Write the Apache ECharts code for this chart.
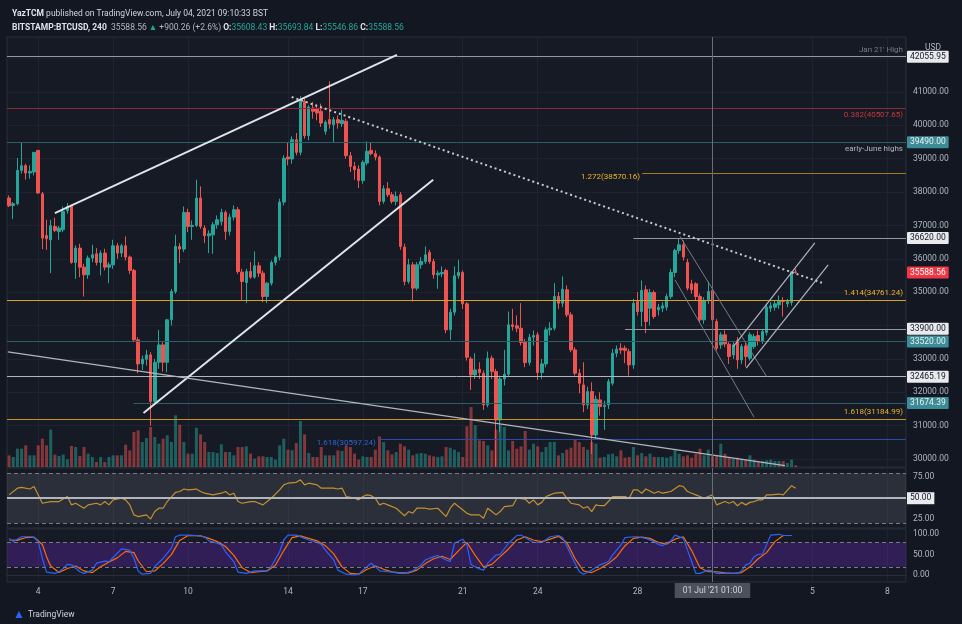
<!DOCTYPE html>
<html><head><meta charset="utf-8">
<script src="https://cdn.jsdelivr.net/npm/echarts@6/dist/echarts.min.js"></script>
<style>html,body{margin:0;padding:0;background:#131722;}#c{width:962px;height:624px;}</style>
</head><body><div id="c"></div>
<script>
// ---- DATA (4h candles, BITSTAMP:BTCUSD, index 0 = 2 Jun 2021 ~21:00) ----
const open = [37820,37600,37650,38650,38790,38570,38600,39250,37950,36700,36570,36970,36820,36870,37440,37570,35890,36320,35750,35520,36020,36150,35890,36170,35750,35820,36390,36170,36390,36050,35650,33570,32850,32990,33120,31720,32900,33420,32900,34170,35020,36370,36290,37390,36970,37000,37820,36920,36690,36720,37020,37120,37390,36820,37250,37470,35600,35290,35620,35450,35790,35570,34870,35270,35890,36050,37700,39050,38990,39570,39190,40720,39690,40520,40490,40420,39820,40170,40020,40170,40050,40120,39090,38770,38690,38350,38870,39250,39150,39050,37720,38100,37920,37720,37920,36350,35320,35820,35120,35820,35920,36190,35920,35520,35550,35650,33870,34400,35490,35590,34650,33000,32520,32690,32570,31620,33020,32620,31170,32400,32540,34020,33990,33920,33490,32890,33650,33720,32590,32850,33870,33920,34870,34670,35070,34320,33270,32570,32220,31620,32020,30720,31770,31570,31620,32270,33170,33320,33320,33220,32820,34720,34420,35070,34520,34990,34470,34520,34550,34870,35590,36250,36420,35890,35250,35250,34870,34170,34770,35050,34120,33420,33720,33440,33120,33550,32970,33390,33020,33370,33700,33520,33790,34520,34550,34620,34750,34650,34690,35608.43];
const high = [37900,37700,39020,39490,38850,38800,39200,39260,38000,37170,37170,37230,36980,37570,37670,37620,36400,36450,35850,36100,36420,36320,36250,36300,35900,36570,36470,36450,36670,36100,35700,33650,33100,33270,33200,33000,33870,33500,34200,35100,36720,36470,37570,37500,37150,38370,38170,37000,36850,37100,37300,37500,37450,37350,37600,37550,35700,35700,35900,36220,35900,35650,35300,35950,36100,37800,39100,39500,39670,39770,40870,40800,40600,40700,40620,40650,40150,41320,40250,40300,40470,40200,39200,38900,38800,38950,39520,39500,39250,39100,38200,38300,38000,38020,38000,36450,36000,35900,35900,36050,36370,36270,36000,35650,35770,35700,34500,35770,35970,35650,34700,33070,33170,32900,32650,33220,33100,32700,32500,33270,34420,34500,34300,34670,33600,33750,33850,33800,33000,33950,34100,35270,35000,35470,35200,34400,33350,32700,32900,32170,32300,31900,32000,31750,32400,33300,33400,33470,33400,33300,34800,35000,35350,35200,35100,35050,34650,34700,34950,35700,36300,36620,36550,36000,35370,35300,34950,34850,35320,35100,34200,33800,33850,33500,33500,33650,33450,33500,33800,33750,33850,33900,34650,34700,34750,34900,34850,34800,35620,35693.84];
const low = [37550,37190,37600,38550,38370,38400,38500,37950,36290,36270,35570,36800,36570,36800,37350,35850,35400,35450,34870,35400,35900,35800,35500,35650,35270,35700,36000,36050,35950,35550,33500,32570,32670,32800,31000,31650,32700,32620,32600,34000,34950,35870,36200,36800,36570,36950,36900,36470,36170,36150,36900,37000,36570,36700,37150,35550,34770,34670,35400,35400,35450,34700,34670,35200,35800,35950,37600,38800,38850,39100,39100,39600,39550,40200,40150,39950,39720,39900,39500,39900,39950,39000,38600,38370,38120,38250,38800,39100,38950,37600,37650,37850,37650,37600,36270,35200,35250,34720,35050,35700,35850,35850,35400,35100,35450,33770,33570,34300,35400,34500,32950,32070,32400,32400,31470,31550,32400,29770,30800,32200,32450,33850,33800,33400,32750,32800,33400,32370,32400,32750,33700,33850,34500,34550,34250,33200,32500,31970,31400,31500,30150,30600,31300,30870,31500,32200,33050,33150,32870,32500,32700,34300,33970,33770,34000,34200,34300,34400,34450,34800,35450,36150,35950,35050,34950,34750,34100,34050,34650,34100,33250,33300,33350,32850,33000,32700,32850,32770,32950,33300,33400,33450,33700,34400,34450,34500,34270,34550,34600,35546.86];
const close = [37590,37650,38650,38790,38570,38620,39190,37970,36620,36600,36990,36850,36920,37420,37570,35890,36320,35750,35520,36020,36120,35890,36170,35750,35820,36390,36170,36390,36050,35650,33570,32850,32990,33120,31720,32900,33420,32900,34170,35020,36370,36290,37390,36970,37000,37820,36970,36690,36750,37020,37170,37390,36820,37250,37470,35620,35320,35620,35450,35790,35570,34870,35270,35890,36050,37700,39010,38990,39570,39190,40710,39690,40550,40420,40370,40070,40090,40040,40170,40070,40150,39090,38770,38670,38350,38890,39220,39150,39050,37720,38100,37920,37720,37870,36370,35320,35820,35120,35820,35920,36120,35920,35520,35570,35590,33870,34400,35490,35590,34650,33050,32520,32670,32590,31620,33020,32620,31170,32400,32540,34020,33970,33920,33490,32890,33650,33700,32590,32850,33870,33920,34870,34670,35090,34320,33270,32570,32270,31620,32020,30720,31790,31570,31610,32320,33170,33290,33270,33250,32820,34670,34420,35050,34120,34990,34270,34550,34590,34870,35590,36250,36420,36050,35120,35070,34870,34170,34750,35020,34170,33320,33720,33450,33070,33420,32970,33370,33070,33720,33670,33520,33820,34550,34590,34650,34720,34720,34720,35608,35588.56];
const volume = [35,30,55,55,65,35,35,65,85,65,112,37,33,37,23,63,60,33,60,40,30,15,30,15,30,35,35,35,67,50,105,110,75,87,120,90,70,85,95,75,155,127,75,40,40,118,98,75,45,45,42,68,45,45,35,60,60,62,40,25,32,32,30,30,22,65,85,52,50,72,138,98,42,30,30,60,35,35,35,50,48,65,60,40,22,32,30,30,52,92,75,50,38,45,70,62,52,35,40,42,40,35,32,30,32,60,58,52,45,30,122,180,125,80,78,65,50,112,125,120,50,78,55,62,108,52,70,62,45,60,75,75,35,42,52,58,82,75,60,52,75,70,28,30,38,40,32,50,28,30,60,35,42,32,40,30,30,30,28,32,52,40,32,35,28,40,55,35,52,32,35,70,40,28,25,28,25,22,35,22,18,18,20,22,18,18,18,12,22,5];
const rsi = [[0,54],[2,62],[3,63],[5,61],[6,64],[8,44],[10,46],[12,46],[14,52],[15,42],[16,44],[18,38],[19,42],[21,44],[22,42],[23,46],[24,42],[25,48],[27,50],[28,48],[29,42],[30,30],[31,28],[33,30],[34,25],[35,34],[36,38],[37,38],[38,46],[40,57],[41,58],[42,61],[43,60],[45,61],[46,58],[47,56],[49,54],[51,56],[52,58],[53,54],[54,56],[55,46],[56,44],[58,46],[59,46],[61,42],[62,46],[63,50],[65,60],[66,66],[67,68],[69,69],[70,72],[71,66],[72,68],[74,66],[75,62],[77,62],[78,62],[79,61],[80,62],[81,52],[83,50],[84,48],[85,52],[86,54],[87,53],[88,50],[89,42],[90,44],[91,42],[93,38],[95,29],[96,34],[97,32],[98,38],[100,38],[101,37],[103,38],[105,28],[106,38],[107,44],[108,40],[110,32],[111,30],[113,30],[114,26],[115,38],[116,34],[117,30],[118,34],[119,40],[121,41],[122,50],[124,49],[125,44],[126,48],[127,42],[128,45],[129,52],[130,54],[131,56],[133,57],[134,50],[135,44],[137,42],[138,38],[139,40],[140,34],[141,42],[142,41],[143,41],[144,46],[145,52],[147,52],[148,52],[149,50],[150,60],[151,60],[152,56],[153,61],[155,56],[156,58],[157,56],[158,57],[159,58],[161,65],[162,64],[163,58],[164,56],[165,54],[166,52],[167,50],[168,52],[169,54],[170,42],[172,46],[173,44],[174,46],[175,41],[176,45],[177,42],[178,45],[179,46],[180,48],[181,48],[182,54],[183,54],[185,55],[186,54],[188,65],[189,62]];
const stochK = [[0,90],[1,82],[3,94],[5,94],[6,92],[7,82],[8,41],[9,7],[11,4],[12,8],[13,16],[14,26],[15,25],[17,8],[18,4],[20,12],[21,29],[23,34],[24,33],[25,43],[27,64],[29,61],[30,41],[31,10],[32,2],[34,4],[35,21],[37,41],[39,66],[40,94],[41,98],[43,98],[45,97],[47,94],[48,84],[50,78],[51,74],[52,57],[54,33],[55,7],[57,4],[59,10],[61,10],[62,10],[63,21],[65,57],[66,86],[67,98],[69,98],[70,94],[71,90],[72,86],[74,80],[75,75],[76,61],[78,37],[79,12],[81,2],[83,0],[84,2],[85,12],[87,29],[88,21],[89,10],[91,8],[92,7],[94,4],[95,4],[97,10],[99,25],[100,37],[102,45],[103,48],[105,37],[106,33],[107,78],[109,88],[110,74],[111,25],[113,15],[114,12],[115,29],[117,49],[118,51],[120,78],[122,97],[123,98],[125,86],[126,80],[128,80],[130,94],[132,97],[133,92],[135,49],[137,8],[138,2],[140,12],[142,25],[144,33],[145,49],[147,74],[148,92],[150,94],[151,94],[153,90],[155,82],[156,75],[157,72],[159,84],[160,98],[162,90],[163,61],[164,33],[165,4],[166,4],[168,12],[169,10],[170,4],[171,4],[173,4],[175,4],[176,10],[177,25],[178,29],[179,45],[180,51],[181,51],[182,74],[183,98],[185,100],[186,97],[188,97]];
const stochD = [[0,86],[2,85],[4,92],[6,93],[8,75],[9,45],[10,22],[12,6],[14,16],[16,22],[18,10],[20,6],[22,20],[24,32],[26,42],[28,58],[30,55],[31,35],[33,8],[35,10],[37,28],[39,50],[41,85],[43,97],[46,96],[48,90],[50,82],[52,70],[54,48],[56,18],[58,6],[60,8],[62,10],[64,24],[66,60],[68,92],[70,96],[72,90],[74,84],[76,72],[78,52],[80,20],[82,4],[84,2],[86,14],[88,22],[90,14],[92,8],[94,5],[96,5],[98,12],[100,28],[102,40],[104,46],[106,38],[108,60],[110,80],[112,48],[114,20],[116,26],[118,45],[120,64],[122,86],[124,94],[126,86],[128,82],[130,88],[132,95],[134,80],[136,40],[138,10],[140,6],[142,16],[144,28],[146,45],[148,72],[150,90],[152,93],[154,90],[156,80],[158,76],[160,88],[162,94],[164,60],[166,18],[168,8],[170,8],[172,5],[174,4],[176,6],[178,20],[180,40],[182,55],[184,82],[186,97],[188,97]];
const dayTickIndex = [7,25,43,67,85,109,127,151,169,193,211];
const dayTickLabel = ['4','7','10','14','17','21','24','28','Jul','5','8'];
const dayLabelIndex = [7,25,43,67,85,109,127,151,193,211];
const priceGridValues = [30000,31000,32000,33000,34000,35000,36000,37000,38000,39000,40000,41000,42000];
const priceLabelValues = [30000,31000,32000,33000,35000,36000,37000,38000,39000,40000,41000];
const rsiLabelValues = [25,75];
const stochLabelValues = [0,50,100];
const rsiBands = [80,50,20];
const stochBands = [80,20];
const crosshairIndex = 169;
const crosshairLabel = "01 Jul '21 01:00";
const levels = [
  {name:'jan',     price:42055.95, start:null},
  {name:'fib382',  price:40507.65, start:null},
  {name:'early',   price:39490.00, start:null},
  {name:'fib1272', price:38570.16, start:152.1},
  {name:'r36620',  price:36620.00, start:150.0},
  {name:'last',    price:35588.56, start:null},
  {name:'fib1414', price:34761.24, start:null},
  {name:'s33900',  price:33900.00, start:148.0},
  {name:'s33520',  price:33520.00, start:null},
  {name:'s32465',  price:32465.19, start:null},
  {name:'s31674',  price:31674.39, start:29.9},
  {name:'fib1618', price:31184.99, start:null},
  {name:'fib1618b',price:30597.24, start:88.6}
];
const levelText = {jan:"Jan 21' High", fib382:'0.382(40507.65)', early:'early-June highs', fib1272:'1.272(38570.16)', fib1414:'1.414(34761.24)', fib1618:'1.618(31184.99)', fib1618b:'1.618(30597.24)'};
const trendLines = [
  {name:'chanUp',   from:[11.0,37370], to:[93.2,42110]},
  {name:'chanLow',  from:[32.3,31380], to:[101.9,38370]},
  {name:'dotted',   from:[67.9,40850], to:[195.3,35280]},
  {name:'longDown', from:[-0.3,33210], to:[186.4,29800]},
  {name:'descUp',   from:[161.2,36670], to:[182.0,32470]},
  {name:'descLow',  from:[160.0,35370], to:[179.0,31250]},
  {name:'ascUp',    from:[174.0,33370], to:[193.6,36480]},
  {name:'ascLow',   from:[177.1,32720], to:[196.8,35820]}
];

// ---- STYLE ----
const C = {bg:'#131722', pane:'#161a25', grid:'#1f2331', border:'#2a2e39', text:'#b2b5be', up:'#26a69a', down:'#ef5350'};
const FONT = 'Roboto';
const CLEAR = 'rgba(0,0,0,0)';
const levelStyle = {
  jan:{color:'#9598a1',w:1,box:'white',tpos:'insideEndTop',tcolor:'#787b86'},
  fib382:{color:'#8e2b32',w:1,box:null,tpos:'insideEndBottom',tcolor:'#c8393f'},
  early:{color:'#2a5f68',w:1,box:'teal',tpos:'insideEndBottom',tcolor:'#b2b5be'},
  fib1272:{color:'#a47a1c',w:1,box:null,tpos:'start',tcolor:'#f0b429'},
  r36620:{color:'#9598a1',w:1,box:'white'},
  last:{color:CLEAR,w:1,box:'red'},
  fib1414:{color:'#d9a21e',w:1,box:null,tpos:'insideEndTop',tcolor:'#f0b429'},
  s33900:{color:'#9598a1',w:1,box:'white'},
  s33520:{color:'#2a5f68',w:1,box:'teal'},
  s32465:{color:'#b2b5be',w:1,box:'white'},
  s31674:{color:'#2a5f68',w:1,box:'teal'},
  fib1618:{color:'#c8911c',w:1,box:null,tpos:'insideEndTop',tcolor:'#f0b429'},
  fib1618b:{color:'#2c4ba6',w:1,box:null,tpos:'start',tcolor:'#2f63d6'}
};
const trendStyle = {
  chanUp:{color:'#e0e3eb',width:2,type:'solid'},
  chanLow:{color:'#e0e3eb',width:2,type:'solid'},
  dotted:{color:'#c8cad0',width:2,type:[2,3]},
  longDown:{color:'#b2b5be',width:1.2,type:'solid'},
  descUp:{color:'#787b86',width:1,type:'solid'},
  descLow:{color:'#787b86',width:1,type:'solid'},
  ascUp:{color:'#b2b5be',width:1.2,type:'solid'},
  ascLow:{color:'#b2b5be',width:1.2,type:'solid'}
};
const boxStyle = {
  white:{backgroundColor:'#e9eaee',color:'#131722'},
  teal:{backgroundColor:'#3b8c96',color:'#eef2f3'},
  red:{backgroundColor:'#f23645',color:'#ffffff'}
};

// ---- BUILD ----
const candleData = open.map((o,i)=>[i,o,close[i],low[i],high[i]]);
const volData = volume.map((v,i)=>({value:[i,v], itemStyle:{color: close[i]>=open[i] ? 'rgba(38,166,154,0.5)' : 'rgba(239,83,80,0.5)'}}));

const mainMarks = [];
const textMarks = [];
levels.forEach(l=>{
  const s = levelStyle[l.name];
  const ls = {color:s.color,width:s.w,type:'solid'};
  const boxLabel = s.box ? Object.assign({show:true,position:'end',formatter:l.price.toFixed(2),fontSize:8.5,fontFamily:FONT,padding:[2,3,1,3],distance:1,borderRadius:1}, boxStyle[s.box]) : {show:false};
  if (l.start === null) {
    mainMarks.push({yAxis:l.price, lineStyle:ls, label:boxLabel});
  } else {
    mainMarks.push([{coord:[l.start,l.price], lineStyle:ls, label:boxLabel},{coord:[215.5,l.price]}]);
  }
  if (levelText[l.name]) {
    const lab = {show:true, position:s.tpos, formatter:levelText[l.name], color:s.tcolor, fontSize:8, fontFamily:FONT, distance:3};
    if (s.tpos === 'start') { lab.distance = 2; lab.offset = [0,4]; }
    const hid = {color:CLEAR, width:0};
    if (l.start === null) textMarks.push({yAxis:l.price, lineStyle:hid, label:lab});
    else textMarks.push([{coord:[l.start,l.price], lineStyle:hid, label:lab},{coord:[215.5,l.price]}]);
  }
});
trendLines.forEach(t=>{
  mainMarks.push([{coord:t.from, lineStyle:trendStyle[t.name], label:{show:false}},{coord:t.to}]);
});
mainMarks.push({xAxis:crosshairIndex, lineStyle:{color:'#6a6d78',width:1,type:'solid'}, label:{show:false}});

function xAxisCfg(gi, showLabel) {
  return {
    gridIndex:gi, type:'value', min:-0.5, max:215.5,
    axisLine:{show:showLabel, lineStyle:{color:C.border}},
    axisTick:{show:false, customValues:dayTickIndex},
    axisLabel:{show:showLabel, customValues:dayLabelIndex, color:C.text, fontSize:8.5, fontFamily:FONT, margin:5,
      formatter:v=>dayTickLabel[dayTickIndex.indexOf(Math.round(v))] || ''},
    splitLine:{show:gi!==1, lineStyle:{color:C.grid,width:1}}
  };
}
const G = {left:7, width:899};
const option = {
  backgroundColor:C.bg,
  animation:false,
  textStyle:{fontFamily:FONT},
  title:[
    {left:7, top:4, text:'{b|YazTCM} published on TradingView.com, July 04, 2021 09:10:33 BST',
      textStyle:{fontSize:8.5, color:'#d1d4dc', fontWeight:'normal', fontFamily:FONT, rich:{b:{fontWeight:'bold',fontSize:8.5,color:'#e0e3eb',fontFamily:FONT}}}},
    {left:7, top:18, text:'{b|BITSTAMP:BTCUSD, 240}  35588.56 {g|▲} +900.26 (+2.6%) {b|O:}{g|35608.43} {b|H:}{g|35693.84} {b|L:}{g|35546.86} {b|C:}{g|35588.56}',
      textStyle:{fontSize:8.5, color:'#b2b5be', fontWeight:'normal', fontFamily:FONT, rich:{b:{fontWeight:'bold',fontSize:8.5,color:'#e0e3eb',fontFamily:FONT}, g:{color:'#26a69a',fontSize:8.5,fontFamily:FONT}}}},
    {left:920, top:38, text:'USD', textStyle:{fontSize:8.5,color:'#b2b5be',fontWeight:'normal',fontFamily:FONT}},
    {left:8, top:604, text:'{logo|▲}TradingView', textStyle:{fontSize:8.5,color:'#d1d4dc',fontWeight:'normal',fontFamily:FONT, rich:{logo:{color:'#2962ff',fontSize:12,padding:[0,3,0,0]}}}}
  ],
  grid:[
    {left:G.left, width:G.width, top:37, height:430, show:true, backgroundColor:C.pane, borderColor:C.border, borderWidth:1},
    {left:G.left, width:G.width, top:400, height:67, show:false},
    {left:G.left, width:G.width, top:468, height:60, show:true, backgroundColor:C.pane, borderColor:C.border, borderWidth:1},
    {left:G.left, width:G.width, top:529, height:53, show:true, backgroundColor:C.pane, borderColor:C.border, borderWidth:1}
  ],
  xAxis:[xAxisCfg(0,false), xAxisCfg(1,false), xAxisCfg(2,false), xAxisCfg(3,true)],
  yAxis:[
    {gridIndex:0, type:'value', position:'right', min:29760, max:42647,
      axisLine:{show:false}, axisTick:{show:false, customValues:priceGridValues},
      axisLabel:{customValues:priceLabelValues, formatter:v=>v.toFixed(2), color:C.text, fontSize:8.5, fontFamily:FONT, margin:7},
      splitLine:{show:true, lineStyle:{color:C.grid}}},
    {gridIndex:1, type:'value', min:0, max:201, show:false, splitLine:{show:false}},
    {gridIndex:2, type:'value', position:'right', min:14.3, max:86.2,
      axisLine:{show:false}, axisTick:{show:false, customValues:rsiLabelValues},
      axisLabel:{customValues:rsiLabelValues, formatter:v=>v.toFixed(2), color:C.text, fontSize:8.5, fontFamily:FONT, margin:7},
      splitLine:{show:false}},
    {gridIndex:3, type:'value', position:'right', min:-17.2, max:113,
      axisLine:{show:false}, axisTick:{show:false, customValues:stochLabelValues},
      axisLabel:{customValues:stochLabelValues, formatter:v=>v.toFixed(2), color:C.text, fontSize:8.5, fontFamily:FONT, margin:7},
      splitLine:{show:false}}
  ],
  series:[
    {type:'bar', name:'Volume', xAxisIndex:1, yAxisIndex:1, data:volData, barWidth:3, z:1, silent:true},
    {type:'candlestick', name:'BTCUSD', xAxisIndex:0, yAxisIndex:0, data:candleData, encode:{x:0,y:[1,2,3,4]},
      barWidth:3, z:3, clip:true,
      itemStyle:{color:C.up, color0:C.down, borderColor:C.up, borderColor0:C.down, borderWidth:1},
      markLine:{silent:true, symbol:['none','none'], animation:false, data:mainMarks}},
    {type:'line', name:'levelText', xAxisIndex:0, yAxisIndex:0, data:[], z:4, silent:true,
      markLine:{silent:true, symbol:['none','none'], animation:false, data:textMarks}},
    {type:'line', name:'RSI', xAxisIndex:2, yAxisIndex:2, data:rsi, showSymbol:false, smooth:false,
      lineStyle:{color:'#c3912f', width:1.2}, z:3,
      markArea:{silent:true, itemStyle:{color:'rgba(120,123,134,0.22)'}, data:[[{yAxis:rsiBands[0]},{yAxis:rsiBands[2]}]]},
      markLine:{silent:true, symbol:['none','none'], data:[
        {yAxis:rsiBands[0], lineStyle:{color:'#787b86',type:[4,3],width:1}, label:{show:false}},
        {yAxis:rsiBands[2], lineStyle:{color:'#787b86',type:[4,3],width:1}, label:{show:false}},
        {yAxis:rsiBands[1], lineStyle:{color:'#b2b5be',type:'solid',width:2},
          label:Object.assign({show:true,position:'end',formatter:rsiBands[1].toFixed(2),fontSize:8.5,fontFamily:FONT,padding:[2,3,1,3],distance:1}, boxStyle.white)},
        {xAxis:crosshairIndex, lineStyle:{color:'#6a6d78',width:1,type:'solid'}, label:{show:false}}
      ]}},
    {type:'line', name:'K', xAxisIndex:3, yAxisIndex:3, data:stochK, showSymbol:false, lineStyle:{color:'#2962ff',width:1.2}, z:3,
      markArea:{silent:true, itemStyle:{color:'rgba(110,40,190,0.32)'}, data:[[{yAxis:stochBands[0]},{yAxis:stochBands[1]}]]},
      markLine:{silent:true, symbol:['none','none'], data:[
        {yAxis:stochBands[0], lineStyle:{color:'#787b86',type:[4,3],width:1}, label:{show:false}},
        {yAxis:stochBands[1], lineStyle:{color:'#787b86',type:[4,3],width:1}, label:{show:false}},
        {xAxis:crosshairIndex, lineStyle:{color:'#6a6d78',width:1,type:'solid'},
          label:{show:true, position:'start', formatter:crosshairLabel, backgroundColor:'#4c505b', color:'#d1d4dc', fontSize:8.5, fontFamily:FONT, padding:[3,8,3,8], distance:1}}
      ]}},
    {type:'line', name:'D', xAxisIndex:3, yAxisIndex:3, data:stochD, showSymbol:false, lineStyle:{color:'#ff6d00',width:1.2}, z:2}
  ]
};
const chart = echarts.init(document.getElementById('c'), null, {renderer:'canvas'});
chart.setOption(option);
</script></body></html>
